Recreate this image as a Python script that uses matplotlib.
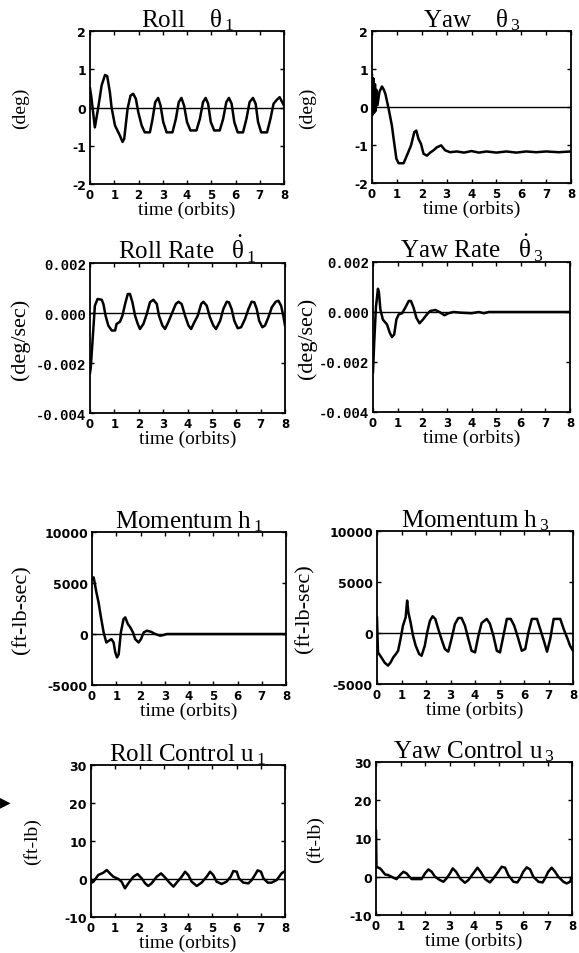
import matplotlib
matplotlib.use('Agg')
import matplotlib.pyplot as plt

plt.rcParams['font.family'] = ['Liberation Serif', 'DejaVu Serif']
plt.rcParams['mathtext.default'] = 'regular'

orbit_ticks = [0, 1, 2, 3, 4, 5, 6, 7, 8]
orbit_labels = ['0', '1', '2', '3', '4', '5', '6', '7', '8']

deg_ticks = [-2, -1, 0, 1, 2]
deg_labels = ['-2', '-1', '0', '1', '2']
rate_ticks = [-0.004, -0.002, 0.0, 0.002]
rate_labels = ['-0.004', '-0.002', '0.000', '0.002']
mom_ticks = [-5000, 0, 5000, 10000]
mom_labels = ['-5000', '0', '5000', '10000']
ctl_ticks = [-10, 0, 10, 20, 30]
ctl_labels = ['-10', '0', '10', '20', '30']

# (time in orbits, value)
roll = [(0, 0.5), (0.05, 0.3), (0.2, -0.52), (0.34, 0.0), (0.48, 0.58), (0.62, 0.85),
        (0.71, 0.82), (0.82, 0.4), (0.89, 0.0), (1.03, -0.47), (1.23, -0.73), (1.34, -0.9),
        (1.41, -0.82), (1.55, -0.03), (1.67, 0.31), (1.78, 0.36), (1.89, 0.23), (1.99, -0.12),
        (2.13, -0.47), (2.26, -0.65), (2.47, -0.65), (2.58, -0.3), (2.69, 0.14), (2.81, 0.25),
        (2.91, 0.05), (3.02, -0.38), (3.16, -0.65), (3.4, -0.65), (3.54, -0.3), (3.66, 0.14),
        (3.77, 0.25), (3.88, 0.05), (4.0, -0.38), (4.14, -0.6), (4.39, -0.6), (4.53, -0.3),
        (4.66, 0.14), (4.77, 0.25), (4.87, 0.1), (4.98, -0.38), (5.12, -0.6), (5.35, -0.6),
        (5.49, -0.3), (5.62, 0.14), (5.73, 0.25), (5.84, 0.1), (5.95, -0.38), (6.09, -0.65),
        (6.31, -0.65), (6.45, -0.3), (6.58, 0.14), (6.72, 0.25), (6.83, 0.1), (6.93, -0.38),
        (7.06, -0.65), (7.3, -0.65), (7.44, -0.3), (7.57, 0.1), (7.7, 0.2), (7.82, 0.27),
        (8.0, 0.05)]

yaw = [(0, 0.85), (0.03, -0.2), (0.06, 0.75), (0.09, -0.15), (0.12, 0.6), (0.15, -0.1),
       (0.18, 0.45), (0.22, 0.05), (0.3, 0.4), (0.4, 0.54), (0.48, 0.45), (0.54, 0.34),
       (0.67, -0.05), (0.8, -0.49), (0.87, -0.84), (0.98, -1.36), (1.07, -1.48), (1.27, -1.48),
       (1.4, -1.28), (1.57, -1.01), (1.7, -0.66), (1.78, -0.62), (1.87, -0.84), (1.97, -0.97),
       (2.07, -1.23), (2.21, -1.28), (2.34, -1.2), (2.47, -1.14), (2.61, -1.06), (2.78, -1.01),
       (2.94, -1.14), (3.14, -1.19), (3.41, -1.17), (3.7, -1.2), (4.0, -1.16), (4.3, -1.2),
       (4.6, -1.17), (5.0, -1.2), (5.4, -1.17), (5.8, -1.2), (6.2, -1.17), (6.6, -1.19),
       (7.0, -1.17), (7.5, -1.19), (8.0, -1.17)]

# rates in units of 0.001 deg/sec
roll_rate = [(0, -2.4), (0.03, -2.2), (0.2, 0.29), (0.31, 0.56), (0.48, 0.53), (0.55, 0.36),
             (0.64, -0.11), (0.75, -0.5), (0.89, -0.7), (1.03, -0.7), (1.09, -0.44), (1.23, -0.35),
             (1.33, -0.11), (1.44, 0.36), (1.55, 0.76), (1.64, 0.76), (1.74, 0.43), (1.85, -0.11),
             (1.96, -0.44), (2.05, -0.64), (2.19, -0.44), (2.33, -0.04), (2.46, 0.43), (2.6, 0.53),
             (2.74, 0.36), (2.83, -0.11), (2.97, -0.5), (3.08, -0.64), (3.21, -0.37), (3.38, 0.03),
             (3.52, 0.36), (3.63, 0.45), (3.76, 0.36), (3.9, -0.11), (4.04, -0.5), (4.15, -0.64),
             (4.28, -0.37), (4.42, -0.11), (4.56, 0.36), (4.65, 0.45), (4.79, 0.29), (4.92, -0.17),
             (5.06, -0.5), (5.17, -0.64), (5.34, -0.31), (5.47, 0.16), (5.61, 0.45), (5.7, 0.43),
             (5.81, 0.16), (5.92, -0.31), (6.06, -0.61), (6.2, -0.57), (6.36, -0.24), (6.5, 0.16),
             (6.63, 0.45), (6.74, 0.43), (6.84, 0.16), (6.94, -0.31), (7.07, -0.57), (7.18, -0.5),
             (7.32, -0.17), (7.46, 0.23), (7.62, 0.45), (7.73, 0.49), (7.84, 0.29), (7.93, -0.11),
             (8.0, -0.5)]

yaw_rate = [(0, -2.4), (0.05, -1.2), (0.12, 0.2), (0.2, 0.93), (0.24, 0.8), (0.3, 0.1),
            (0.4, -0.3), (0.57, -0.5), (0.68, -0.83), (0.77, -1.0), (0.86, -0.9), (0.95, -0.3),
            (1.04, -0.1), (1.18, -0.05), (1.31, 0.17), (1.45, 0.44), (1.54, 0.44), (1.65, 0.17),
            (1.76, -0.23), (1.89, -0.45), (2.03, -0.3), (2.16, -0.13), (2.32, 0.04), (2.53, 0.08),
            (2.7, 0.0), (2.9, -0.13), (3.07, -0.05), (3.27, 0.0), (3.6, -0.03), (4.0, -0.05),
            (4.3, 0.0), (4.5, -0.05), (4.7, 0.0), (8.0, 0.0)]

mom_h1 = [(0, 5400), (0.07, 5550), (0.18, 4100), (0.27, 3100), (0.37, 1630), (0.48, 150),
          (0.59, -830), (0.69, -670), (0.8, -500), (0.89, -830), (0.96, -1800), (1.03, -2300),
          (1.1, -2000), (1.19, 150), (1.3, 1460), (1.37, 1630), (1.48, 970), (1.58, 650),
          (1.69, 150), (1.78, -500), (1.92, -830), (2.02, -500), (2.13, 150), (2.26, 320),
          (2.43, 220), (2.61, 0), (2.81, -170), (2.95, -100), (3.09, 0), (8.0, 0)]

mom_h3 = [(0, 1500), (0.04, -1900), (0.18, -2400), (0.31, -2900), (0.45, -3200), (0.55, -2900),
          (0.66, -2400), (0.76, -2100), (0.86, -1750), (0.96, -600), (1.06, 720), (1.17, 1540),
          (1.23, 3180), (1.28, 2030), (1.37, 1050), (1.47, -260), (1.58, -1250), (1.72, -2060),
          (1.82, -2230), (1.95, -1250), (2.05, 70), (2.16, 1200), (2.27, 1640), (2.38, 1380),
          (2.5, 390), (2.63, -590), (2.77, -1570), (2.91, -1830), (3.04, -590), (3.18, 880),
          (3.32, 1470), (3.45, 1470), (3.59, 720), (3.73, -590), (3.86, -1740), (4.0, -1900),
          (4.14, -260), (4.27, 980), (4.48, 1380), (4.61, 900), (4.75, -260), (4.89, -1740),
          (5.02, -1900), (5.16, -260), (5.3, 1380), (5.46, 1380), (5.6, 720), (5.77, -590),
          (5.91, -1740), (6.05, -1570), (6.18, 70), (6.32, 1380), (6.53, 1380), (6.66, 390),
          (6.83, -920), (6.94, -1830), (7.07, -590), (7.21, 1380), (7.48, 1380), (7.62, 390),
          (7.78, -590), (7.88, -1250), (8.0, -1740)]

ctl_u1 = [(0, -0.3), (0.05, -0.9), (0.1, -0.7), (0.3, 1.05), (0.51, 1.66), (0.65, 2.36),
          (0.78, 1.48), (0.92, 0.61), (1.13, 0.0), (1.26, -0.7), (1.4, -2.45), (1.54, -1.13),
          (1.75, 0.61), (1.92, 1.31), (2.09, 0.17), (2.23, -1.13), (2.36, -1.83), (2.5, -1.13),
          (2.71, 0.61), (2.89, 1.48), (3.05, 0.44), (3.26, -1.13), (3.4, -2.0), (3.6, -0.44),
          (3.74, 0.61), (3.88, 1.92), (4.01, 1.05), (4.15, -0.7), (4.36, -1.83), (4.56, -0.96),
          (4.77, 0.61), (4.91, 1.92), (5.04, 1.05), (5.18, -0.7), (5.39, -1.31), (5.59, -0.7),
          (5.76, 0.61), (5.87, 2.1), (6.01, 1.92), (6.1, 0.17), (6.28, -0.96), (6.49, -1.13),
          (6.63, -0.26), (6.76, 1.05), (6.87, 2.27), (7.01, 1.92), (7.11, 0.17), (7.29, -0.96),
          (7.45, -0.96), (7.66, -0.26), (7.86, 1.48), (8.0, 2.1)]

ctl_u3 = [(0, 12.0), (0.02, 2.6), (0.16, 2.2), (0.23, 1.75), (0.37, 0.6), (0.5, 0.44),
          (0.71, -0.26), (0.84, -0.61), (0.98, 0.44), (1.12, 1.31), (1.25, 0.87), (1.36, 0.0),
          (1.46, -0.61), (1.86, -0.61), (2.0, 0.87), (2.14, 1.92), (2.27, 1.31), (2.41, 0.0),
          (2.61, -0.87), (2.75, -1.31), (2.88, -0.44), (3.02, 0.87), (3.13, 2.18), (3.27, 1.31),
          (3.43, -0.44), (3.63, -1.57), (3.77, -0.87), (3.97, 0.87), (4.14, 2.36), (4.27, 1.31),
          (4.45, -0.61), (4.65, -1.48), (4.79, -0.44), (4.99, 1.31), (5.13, 2.62), (5.27, 2.36),
          (5.4, 0.44), (5.61, -1.31), (5.77, -1.48), (5.88, -0.44), (6.01, 1.31), (6.15, 2.45),
          (6.29, 1.92), (6.42, 0.0), (6.63, -1.31), (6.8, -1.48), (6.9, -0.44), (7.03, 1.31),
          (7.17, 2.36), (7.31, 1.31), (7.44, 0.0), (7.65, -1.31), (7.78, -1.75), (7.92, -1.31),
          (8.0, 0.0)]

W, H = 579, 954


def box(x0, y0, x1, y1):
    return [x0 / W, 1 - y1 / H, (x1 - x0) / W, (y1 - y0) / H]


def panel(fig, rect, pts, title, ylab, ticks, labels, scale=1.0, mono=False,
          lab_x=-0.3, lab_size=14):
    ax = fig.add_axes(rect)
    t = [p[0] for p in pts]
    v = [p[1] * scale for p in pts]
    ax.axhline(0, color='black', lw=1.0)
    ax.plot(t, v, color='black', lw=1.8, solid_joinstyle='round')
    ax.set_xlim(0, 8)
    ax.set_ylim(ticks[0], ticks[-1])
    ax.set_xticks(orbit_ticks)
    ax.set_xticklabels(orbit_labels, family='DejaVu Sans', weight='bold', fontsize=8.5)
    ax.set_yticks(ticks)
    if mono:
        ax.set_yticklabels(labels, family='Liberation Mono', weight='bold', fontsize=10)
    else:
        ax.set_yticklabels(labels, family='DejaVu Sans', weight='bold', fontsize=9)
    ax.tick_params(direction='in', length=3, width=1, top=True, right=True, pad=3)
    for s in ax.spines.values():
        s.set_linewidth(1.3)
    ax.set_title(title, fontsize=18, pad=3)
    ax.set_xlabel('time (orbits)', fontsize=14, labelpad=0)
    ax.set_ylabel(ylab, fontsize=lab_size)
    ax.yaxis.set_label_coords(lab_x, 0.5)
    return ax


fig = plt.figure(figsize=(W / 100, H / 100), dpi=100)

panel(fig, box(90, 32, 284, 185), roll, r'Roll    $\theta_{\,1}$', '(deg)',
      deg_ticks, deg_labels, lab_x=-0.315)
panel(fig, box(372, 32, 571, 184), yaw, r'Yaw    $\theta_{\,3}$', '(deg)',
      deg_ticks, deg_labels, lab_x=-0.28)
panel(fig, box(90, 264, 285, 414), roll_rate, r'Roll Rate   $\dot{\theta}_{\,1}$', '(deg/sec)',
      rate_ticks, rate_labels, scale=1e-3, mono=True, lab_x=-0.31, lab_size=16)
panel(fig, box(373, 263, 570, 413), yaw_rate, r'Yaw Rate   $\dot{\theta}_{\,3}$', '(deg/sec)',
      rate_ticks, rate_labels, scale=1e-3, mono=True, lab_x=-0.285, lab_size=16)
panel(fig, box(92, 533, 286, 686), mom_h1, r'Momentum $h_{\,1}$', '(ft-lb-sec)',
      mom_ticks, mom_labels, lab_x=-0.31, lab_size=16)
panel(fig, box(377, 532, 573, 685), mom_h3, r'Momentum $h_{\,3}$', '(ft-lb-sec)',
      mom_ticks, mom_labels, lab_x=-0.32, lab_size=16)
panel(fig, box(91, 766, 285, 918), ctl_u1, r'Roll Control $u_{\,1}$', '(ft-lb)',
      ctl_ticks, ctl_labels, lab_x=-0.255)
panel(fig, box(376, 763, 572, 916), ctl_u3, r'Yaw Control $u_{\,3}$', '(ft-lb)',
      ctl_ticks, ctl_labels, lab_x=-0.265)

# stray arrow mark at the left margin of the scanned page
fig.text(0.0, 1 - 802 / H, '\u25B6', family='DejaVu Sans', fontsize=10,
         ha='left', va='center')

plt.savefig('out.png', dpi=100)
